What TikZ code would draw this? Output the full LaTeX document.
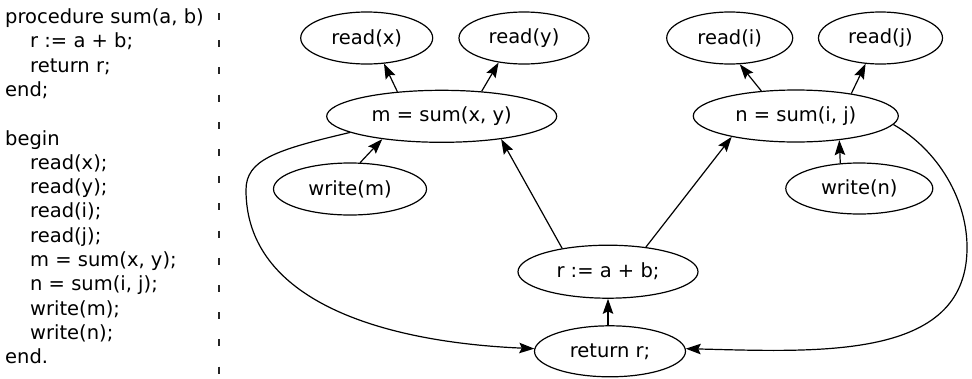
\documentclass[tikz,border=0pt]{standalone}
\usepackage{fontspec}
\setmainfont{DejaVu Sans}
\usetikzlibrary{shapes.geometric,arrows.meta}
\begin{document}
\begin{tikzpicture}[x=1pt,y=-1pt,
  every node/.style={font=\fontsize{19.5}{24}\selectfont},
  oval/.style={ellipse,draw,line width=1.2pt,inner sep=0pt},
  codeline/.style={anchor=base west,inner sep=0pt},
  edge/.style={line width=1.2pt,-{Stealth[length=15pt,width=10.5pt,inset=2.5pt]}}]
\useasboundingbox (0,0) rectangle (972,378);
% code listing
\node[codeline] (c1) at (5,23.5) {procedure sum(a, b)};
\node[codeline] (c2) at (30,47.8) {r := a + b;};
\node[codeline] (c3) at (30,72.1) {return r;};
\node[codeline] (c4) at (5,96.4) {end;};
\node[codeline] (c5) at (5,145) {begin};
\node[codeline] (c6) at (30,169.3) {read(x);};
\node[codeline] (c7) at (30,193.6) {read(y);};
\node[codeline] (c8) at (30,217.9) {read(i);};
\node[codeline] (c9) at (30,242.2) {read(j);};
\node[codeline] (c10) at (30,266.5) {m = sum(x, y);};
\node[codeline] (c11) at (30,290.8) {n = sum(i, j);};
\node[codeline] (c12) at (30,315.1) {write(m);};
\node[codeline] (c13) at (30,339.4) {write(n);};
\node[codeline] (c14) at (5,363.7) {end.};
% separator
\draw[line width=1.1pt,black!85,dash pattern=on 7pt off 20.2pt] (219,13) -- (219,376);
% graph nodes
\node[oval,minimum width=132pt,minimum height=52pt] (rx) at (366.7,38) {read(x)};
\node[oval,minimum width=130pt,minimum height=52pt] (ry) at (524,38) {read(y)};
\node[oval,minimum width=126pt,minimum height=52pt] (ri) at (729.7,38) {read(i)};
\node[oval,minimum width=124pt,minimum height=52pt] (rj) at (880.5,38) {read(j)};
\node[oval,minimum width=230pt,minimum height=52pt] (m) at (441.7,116.3) {m = sum(x, y)};
\node[oval,minimum width=205pt,minimum height=52pt] (n) at (795.8,116) {n = sum(i, j)};
\node[oval,minimum width=153pt,minimum height=52pt] (wm) at (350,189) {write(m)};
\node[oval,minimum width=147pt,minimum height=51pt] (wn) at (859.3,188.5) {write(n)};
\node[oval,minimum width=180pt,minimum height=53pt] (r) at (608,271.7) {r := a + b;};
\node[oval,minimum width=151pt,minimum height=51pt] (ret) at (610,351.3) {return r;};
% edges
\draw[edge] (m.151) -- (rx.304);
\draw[edge] (m.32) -- (ry.224);
\draw[edge] (wm.69) -- (m.201);
\draw[edge] (r.153) -- (m.339);
\draw[edge] (r.33) -- (n.198);
\draw[edge] (n.144) -- (ri.291);
\draw[edge] (n.22) -- (rj.240);
\draw[edge] (wn.127) -- (n.331);
\draw[edge] (ret.north -| r.south) -- (r.south);
\draw[edge] (m.190) .. controls (275,150) and (246,160) .. (246,190)
  .. controls (246,300) and (380,342) .. (ret.178);
\draw[edge] (n.355) .. controls (938,150) and (968,200) .. (967,250)
  .. controls (965,360) and (820,352) .. (ret.2);
\end{tikzpicture}
\end{document}
